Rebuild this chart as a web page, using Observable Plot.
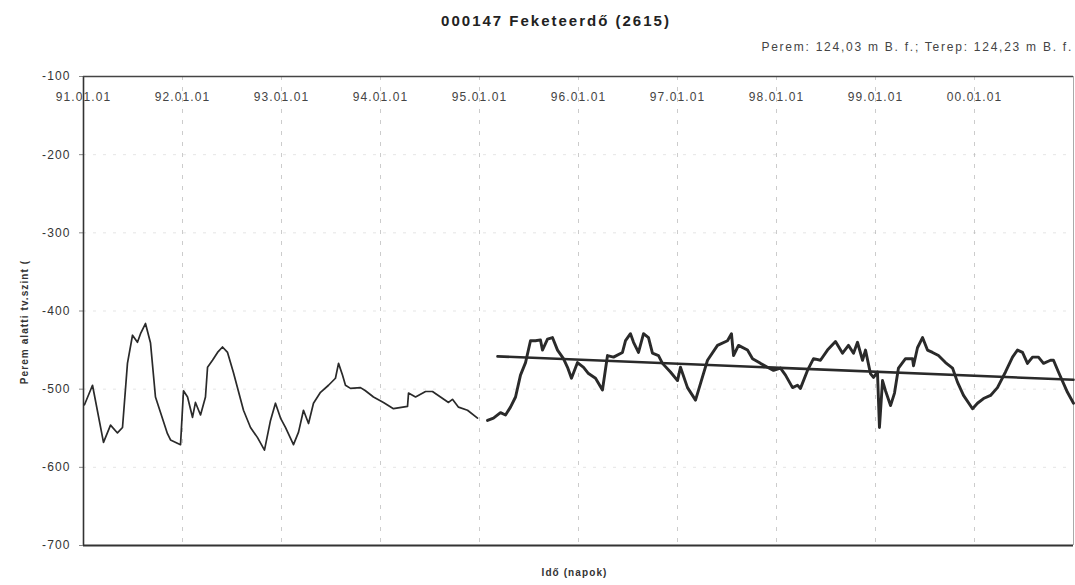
<!DOCTYPE html>
<html>
<head>
<meta charset="utf-8">
<script src="https://cdn.jsdelivr.net/npm/d3@7"></script>
<script src="https://cdn.jsdelivr.net/npm/@observablehq/plot@0.6"></script>
<style>
  body { margin: 0; background: #fff; font-family: "Liberation Sans", Arial, sans-serif; }
  #wrap { position: relative; width: 1075px; height: 585px; overflow: hidden; background: #fff; }
  #title { position: absolute; left: 0; width: 1112px; top: 12px; text-align: center;
           font-weight: bold; font-size: 15px; line-height: 18px; letter-spacing: 2px; color: #222; }
  #subtitle { position: absolute; right: 2px; top: 40px; font-size: 12px; line-height: 14px;
              letter-spacing: 1.75px; color: #444; white-space: nowrap; }
  #chart { position: absolute; left: 0; top: 56px; }
</style>
</head>
<body>
<div id="wrap">
  <div id="title"></div>
  <div id="subtitle"></div>
  <div id="chart"></div>
</div>
<script>
const titleText = "000147 Feketeerdő (2615)";
const subtitleText = "Perem: 124,03 m B. f.; Terep: 124,23 m B. f.";
const yLabel = "Perem alatti tv.szint (";
const xLabel = "Idő (napok)";

// x tick positions (decimal years) and their labels
const tickYears = [1991, 1992, 1993, 1994, 1995, 1996, 1997, 1998, 1999, 2000];
const tickLabels = ["91.01.01", "92.01.01", "93.01.01", "94.01.01", "95.01.01",
                    "96.01.01", "97.01.01", "98.01.01", "99.01.01", "00.01.01"];
const yTicks = [-100, -200, -300, -400, -500, -600, -700];

// thin series, 1991-1994 (decimal years, value)
const thinT = [1991.010, 1991.091, 1991.202, 1991.273, 1991.343, 1991.394, 1991.444, 1991.495, 1991.545, 1991.576,
  1991.626, 1991.677, 1991.727, 1991.848, 1991.879, 1991.980, 1992.010, 1992.051, 1992.101, 1992.131,
  1992.182, 1992.232, 1992.253, 1992.303, 1992.354, 1992.404, 1992.455, 1992.515, 1992.616, 1992.687,
  1992.758, 1992.828, 1992.889, 1992.939, 1992.990, 1993.040, 1993.121, 1993.172, 1993.222, 1993.273,
  1993.323, 1993.394, 1993.475, 1993.545, 1993.576, 1993.616, 1993.646, 1993.697, 1993.798, 1993.848,
  1993.929, 1994.030, 1994.131, 1994.273, 1994.283, 1994.354, 1994.455, 1994.525, 1994.606, 1994.687,
  1994.727, 1994.788, 1994.879, 1994.980];
const thinV = [-520, -495, -568, -546, -556, -549, -467, -431, -440, -429,
  -416, -441, -510, -557, -565, -571, -502, -510, -536, -517,
  -533, -510, -472, -463, -453, -446, -453, -479, -527, -549,
  -562, -578, -540, -518, -537, -549, -571, -555, -527, -544,
  -518, -504, -495, -486, -467, -482, -495, -499, -498, -502,
  -510, -517, -525, -522, -505, -510, -503, -503, -510, -517,
  -513, -523, -527, -537];

// thick series, 1995-2000
const thickT = [1995.081, 1995.141, 1995.212, 1995.263, 1995.313, 1995.364, 1995.414, 1995.465, 1995.515, 1995.566,
  1995.616, 1995.636, 1995.687, 1995.737, 1995.788, 1995.848, 1995.889, 1995.929, 1995.990, 1996.051,
  1996.101, 1996.172, 1996.242, 1996.293, 1996.354, 1996.444, 1996.475, 1996.525, 1996.556, 1996.606,
  1996.657, 1996.707, 1996.747, 1996.808, 1996.848, 1996.929, 1997.000, 1997.030, 1997.101, 1997.182,
  1997.232, 1997.303, 1997.404, 1997.505, 1997.545, 1997.566, 1997.616, 1997.707, 1997.758, 1997.838,
  1997.909, 1997.970, 1998.040, 1998.091, 1998.162, 1998.212, 1998.242, 1998.313, 1998.374, 1998.444,
  1998.515, 1998.596, 1998.667, 1998.727, 1998.778, 1998.818, 1998.869, 1998.899, 1998.949, 1998.980,
  1999.020, 1999.040, 1999.071, 1999.101, 1999.152, 1999.192, 1999.232, 1999.303, 1999.374, 1999.384,
  1999.424, 1999.475, 1999.525, 1999.576, 1999.636, 1999.707, 1999.778, 1999.828, 1999.889, 1999.980,
  2000.030, 2000.091, 2000.162, 2000.232, 2000.313, 2000.384, 2000.434, 2000.485, 2000.535, 2000.586,
  2000.646, 2000.697, 2000.768, 2000.798, 2000.848, 2000.939, 2001.000];
const thickV = [-540, -537, -530, -533, -523, -510, -482, -466, -438, -438,
  -437, -450, -436, -434, -450, -461, -472, -486, -466, -472,
  -480, -486, -501, -457, -459, -453, -438, -429, -440, -453,
  -429, -434, -454, -457, -467, -478, -489, -472, -498, -514,
  -493, -463, -444, -438, -429, -457, -444, -450, -461, -467,
  -472, -476, -473, -482, -498, -495, -499, -476, -461, -463,
  -450, -439, -454, -444, -454, -440, -463, -450, -480, -485,
  -478, -549, -489, -502, -521, -505, -473, -461, -461, -470,
  -447, -434, -450, -453, -457, -466, -473, -491, -508, -525,
  -518, -512, -508, -498, -478, -459, -450, -453, -467, -459,
  -459, -467, -463, -463, -478, -504, -518];

// linear trend line
const trendT = [1995.182, 2001.0];
const trendV = [-458, -488];

document.getElementById("title").textContent = titleText;
document.getElementById("subtitle").textContent = subtitleText;

const thin = thinT.map((t, i) => ({t, v: thinV[i]}));
const thick = thickT.map((t, i) => ({t, v: thickV[i]}));
const trend = trendT.map((t, i) => ({t, v: trendV[i]}));
const ticks = tickYears.map((t, i) => ({t, label: tickLabels[i]}));

const chart = Plot.plot({
  width: 1075,
  height: 529,
  marginTop: 20,
  marginBottom: 40,
  marginLeft: 83,
  marginRight: 2,
  style: { fontFamily: "'Liberation Sans', Arial, sans-serif", fontSize: "12px", color: "#333", background: "transparent", letterSpacing: "1.1px" },
  x: { domain: [1991, 2001], axis: null },
  y: { domain: [-700, -100], axis: null },
  marks: [
    Plot.gridY(yTicks.slice(1, -1), { stroke: "#ccc", strokeOpacity: 0.5, strokeDasharray: "3,7" }),
    Plot.gridX(tickYears.slice(1), { stroke: "#aaa", strokeOpacity: 0.6, strokeDasharray: "4,7" }),
    Plot.axisY(yTicks, { tickSize: 4, tickPadding: 9, tickFormat: d => `${d}`, label: null, fill: "#333", stroke: "#888" }),
    Plot.ruleX([1991], { stroke: "#333", strokeWidth: 1.6 }),
    Plot.ruleX([2001], { stroke: "#aaa", strokeWidth: 1 }),
    Plot.ruleY([-100], { stroke: "#444", strokeWidth: 1.6 }),
    Plot.ruleY([-700], { stroke: "#333", strokeWidth: 2 }),
    Plot.text(ticks, { x: "t", text: "label", frameAnchor: "top", dy: 16, fill: "#444", fontSize: 12 }),
    Plot.line(thin, { x: "t", y: "v", stroke: "#2a2a2a", strokeWidth: 1.7 }),
    Plot.line(thick, { x: "t", y: "v", stroke: "#2a2a2a", strokeWidth: 2.9 }),
    Plot.line(trend, { x: "t", y: "v", stroke: "#2a2a2a", strokeWidth: 2.6 }),
    Plot.text([yLabel], { frameAnchor: "left", dx: -59, dy: 11, rotate: -90, textAnchor: "middle", fontWeight: "bold", fontSize: 10, fill: "#333" }),
    Plot.text([xLabel], { frameAnchor: "bottom", dx: -4, dy: 30, fontWeight: "bold", fontSize: 10, fill: "#333" })
  ]
});
document.getElementById("chart").appendChild(chart);
</script>
</body>
</html>
